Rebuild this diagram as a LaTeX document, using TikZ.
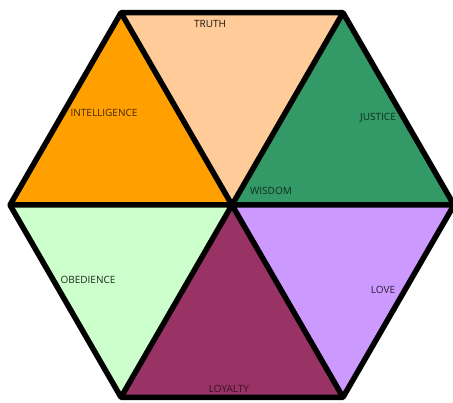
\documentclass[tikz,border=0pt]{standalone}
\usepackage{fontspec}
\setsansfont{Open Sans}
\usepackage{tikz}
\usetikzlibrary{calc}

\definecolor{peach}{HTML}{FFCC99}
\definecolor{amber}{HTML}{FF9F00}
\definecolor{jade}{HTML}{339966}
\definecolor{mint}{HTML}{CCFFCC}
\definecolor{plum}{HTML}{993366}
\definecolor{lilac}{HTML}{CC99FF}

\begin{document}
\begin{tikzpicture}[x=1pt, y=1pt, every node/.style={font=\sffamily\fontsize{10}{12}\selectfont, inner sep=1pt}]
	\useasboundingbox (0,0) rectangle (453,403);
	\coordinate (c) at (232,198);
	\foreach \a in {0,60,...,300} {\coordinate (v\a) at ($(c)+(\a:222)$);}
	\fill[peach] (c) -- (v60) -- (v120) -- cycle;
	\fill[amber] (c) -- (v120) -- (v180) -- cycle;
	\fill[jade] (c) -- (v0) -- (v60) -- cycle;
	\fill[lilac] (c) -- (v300) -- (v0) -- cycle;
	\fill[plum] (c) -- (v240) -- (v300) -- cycle;
	\fill[mint] (c) -- (v180) -- (v240) -- cycle;
	\draw[line width=5.5pt, line join=round] (v0) -- (v60) -- (v120) -- (v180) -- (v240) -- (v300) -- cycle;
	\draw[line width=5.5pt] (v0) -- (v180) (v60) -- (v240) (v120) -- (v300);
	\node[text=peach!10!black] (truth) at (210,379) {TRUTH};
	\node[text=amber!25!black] (intelligence) at (104,290) {INTELLIGENCE};
	\node[text=jade!30!black] (justice) at (378,285) {JUSTICE};
	\node[text=jade!30!black] (wisdom) at (271,212) {WISDOM};
	\node[text=mint!15!black] (obedience) at (88,123) {OBEDIENCE};
	\node[text=lilac!20!black] (love) at (383,113) {LOVE};
	\node[text=plum!35!black] (loyalty) at (229,14) {LOYALTY};
\end{tikzpicture}
\end{document}
